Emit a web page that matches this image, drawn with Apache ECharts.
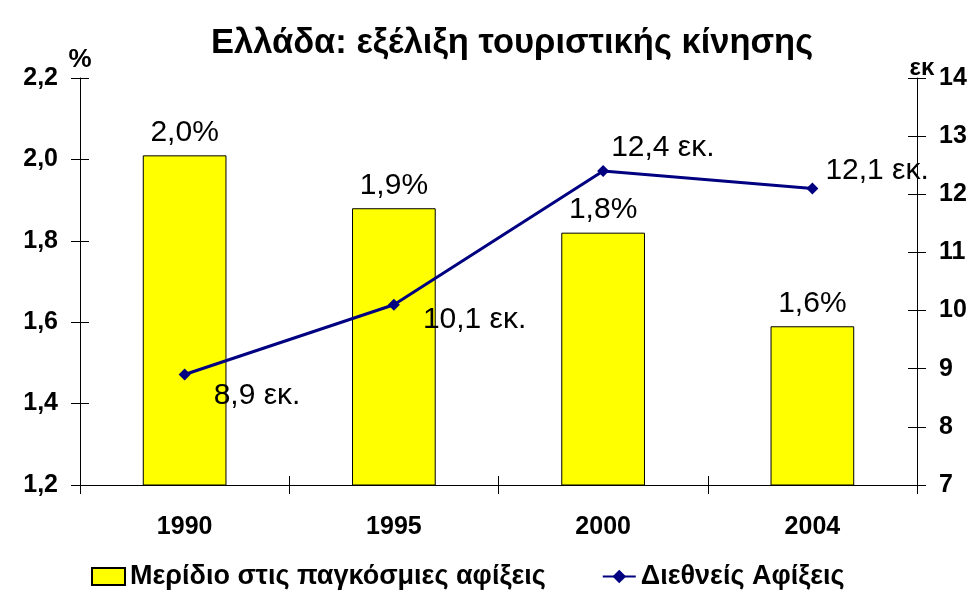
<!doctype html>
<html>
<head>
  <meta charset="utf-8">
  <script src="https://cdn.jsdelivr.net/npm/echarts@6/dist/echarts.min.js"></script>
  <style>
    html, body { margin: 0; padding: 0; background: #fff; }
    #chart { width: 977px; height: 600px; }
  </style>
</head>
<body>
  <div id="chart"></div>
  <script type="text/javascript">
    // chart data
    var years = ['1990', '1995', '2000', '2004'];
    var shareValues = [2.01, 1.88, 1.82, 1.59];   // Μερίδιο (%)
    var arrivalValues = [8.9, 10.1, 12.4, 12.1];  // εκατ. αφίξεις
    var shareName = 'Μερίδιο στις παγκόσμιες αφίξεις';
    var arrivalName = 'Διεθνείς Αφίξεις';

    // label placement for the line points (style only)
    var lineLabelOffsets = [[18, 21], [18, 15], [-3, -23], [2, -18]];

    var font = 'Liberation Sans, Arial, sans-serif';
    function comma(v, d) {
      return v.toFixed(d).replace('.', ',');
    }

    var lineData = [];
    for (var i = 0; i < arrivalValues.length; i++) {
      lineData.push({
        value: arrivalValues[i],
        label: { offset: lineLabelOffsets[i] }
      });
    }

    var tickLabel = { color: '#000', fontFamily: font, fontWeight: 'bold', fontSize: 25 };

    var myChart = echarts.init(document.getElementById('chart'));
    var option = {
      backgroundColor: '#fff',
      animation: false,
      title: {
        text: 'Ελλάδα: εξέλιξη τουριστικής κίνησης',
        left: 206,
        top: 21,
        textStyle: { color: '#000', fontFamily: font, fontWeight: 'bold', fontSize: 34.5 }
      },
      legend: {
        left: 86,
        top: 558,
        itemGap: 56,
        itemWidth: 33,
        itemHeight: 17,
        textStyle: { color: '#000', fontFamily: font, fontWeight: 'bold', fontSize: 27 },
        data: [{ name: shareName, icon: 'rect' }, { name: arrivalName }]
      },
      grid: { left: 80, right: 60, top: 78, bottom: 115 },
      xAxis: [{
        type: 'category',
        data: years,
        axisLine: { lineStyle: { color: '#000', width: 1 } },
        axisTick: { show: true, length: 9, lineStyle: { color: '#000' } },
        axisLabel: Object.assign({ margin: 30 }, tickLabel),
        splitLine: { show: false }
      }, {
        type: 'category',
        data: years,
        position: 'bottom',
        gridIndex: 0,
        axisLine: { show: false },
        axisTick: { show: true, inside: true, length: 9, lineStyle: { color: '#000' } },
        axisLabel: { show: false },
        splitLine: { show: false }
      }],
      yAxis: [{
        type: 'value',
        min: 1.2, max: 2.2, interval: 0.2,
        position: 'left',
        name: '%',
        nameLocation: 'end',
        nameGap: 5,
        nameTextStyle: { color: '#000', fontFamily: font, fontWeight: 'bold', fontSize: 26, align: 'center' },
        axisLine: { show: true, lineStyle: { color: '#000', width: 1 } },
        axisTick: { show: true, length: 9, lineStyle: { color: '#000' } },
        axisLabel: Object.assign({ margin: 22, formatter: function (v) { return comma(v, 1); } }, tickLabel),
        splitLine: { show: false }
      }, {
        type: 'value',
        min: 7, max: 14, interval: 1,
        position: 'right',
        name: 'εκ',
        nameLocation: 'end',
        nameGap: 10,
        nameMoveOverlap: false,
        nameTextStyle: { color: '#000', fontFamily: font, fontWeight: 'bold', fontSize: 24, align: 'center', verticalAlign: 'middle', padding: [0, 0, 0, 10] },
        axisLine: { show: true, lineStyle: { color: '#000', width: 1 } },
        axisTick: { show: true, length: 9, lineStyle: { color: '#000' } },
        axisLabel: Object.assign({ margin: 22 }, tickLabel),
        splitLine: { show: false }
      }, {
        type: 'value',
        min: 1.2, max: 2.2, interval: 0.2,
        position: 'left',
        axisLine: { show: false },
        axisTick: { show: true, inside: true, length: 9, lineStyle: { color: '#000' } },
        axisLabel: { show: false },
        splitLine: { show: false }
      }, {
        type: 'value',
        min: 7, max: 14, interval: 1,
        position: 'right',
        axisLine: { show: false },
        axisTick: { show: true, inside: true, length: 9, lineStyle: { color: '#000' } },
        axisLabel: { show: false },
        splitLine: { show: false }
      }],
      series: [{
        name: shareName,
        type: 'bar',
        yAxisIndex: 0,
        barWidth: '40%',
        data: shareValues,
        itemStyle: { color: '#ffff00', borderColor: '#000', borderWidth: 1 },
        label: {
          show: true,
          position: 'top',
          distance: 8,
          color: '#000',
          fontFamily: font,
          fontSize: 30,
          formatter: function (p) { return comma(p.value, 1) + '%'; }
        }
      }, {
        name: arrivalName,
        type: 'line',
        yAxisIndex: 1,
        data: lineData,
        symbol: 'diamond',
        symbolSize: 12,
        z: 5,
        lineStyle: { color: '#000080', width: 3 },
        itemStyle: { color: '#000080' },
        label: {
          show: true,
          position: 'right',
          distance: 5,
          color: '#000',
          fontFamily: font,
          fontSize: 30,
          formatter: function (p) { return comma(p.value, 1) + ' εκ.'; }
        }
      }]
    };
    myChart.setOption(option);
  </script>
</body>
</html>
